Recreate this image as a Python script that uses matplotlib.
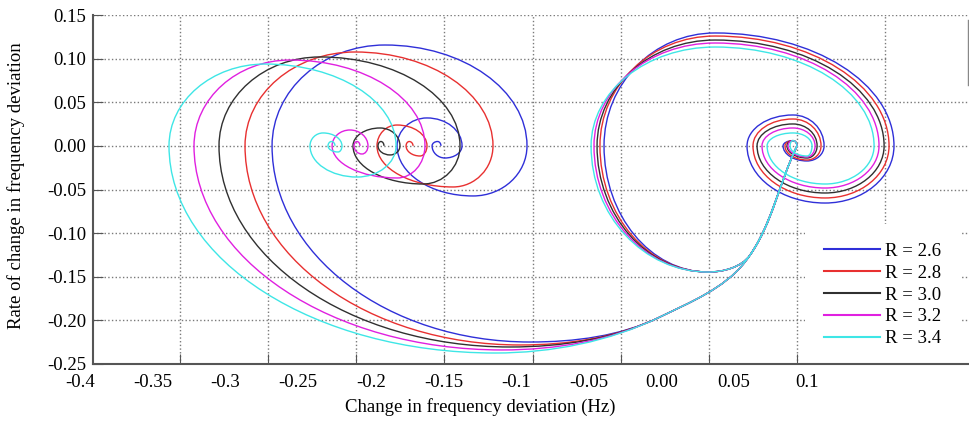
import matplotlib
matplotlib.use("Agg")
import matplotlib.pyplot as plt
import numpy as np
from matplotlib.path import Path
from matplotlib.patches import PathPatch, Rectangle
from matplotlib.lines import Line2D

plt.rcParams['font.family'] = ['Liberation Serif', 'DejaVu Serif']

## series
r_labels = ['R = 2.6', 'R = 2.8', 'R = 3.0', 'R = 3.2', 'R = 3.4']
colors = ['#2f2fd8', '#e83030', '#303030', '#e020e0', '#3ee6e6']

## curve nodes (extremes of each half turn), travel is clockwise
## left trajectory: starts at the right equilibrium, swings out left, spirals in
left_dirs = [244, 232, 206, 180, 90, 0, 270, 180, 90, 0, 270, 180, 90, 0, 270]
left_start = [(0.0933, 0.0), (0.0575, -0.1331), (-0.0010, -0.1961)]
left_26 = [(-0.0904, -0.2248), (-0.2679, 0.0), (-0.1902, 0.1156), (-0.0925, 0.0),
           (-0.1296, -0.0574), (-0.1819, 0.0), (-0.1613, 0.0320), (-0.1372, 0.0),
           (-0.1489, -0.0139), (-0.1578, 0.0), (-0.1540, 0.005), (-0.1517, 0.0)]
left_28 = [(-0.0973, -0.2282), (-0.2865, 0.0), (-0.2108, 0.1076), (-0.1159, 0.0),
           (-0.1434, -0.0471), (-0.1957, 0.0), (-0.1819, 0.0239), (-0.1613, 0.0),
           (-0.1661, -0.0116), (-0.1757, 0.0), (-0.1735, 0.005), (-0.1709, 0.0)]
left_30 = [(-0.1042, -0.2305), (-0.3044, 0.0), (-0.2349, 0.1019), (-0.1386, 0.0),
           (-0.1640, -0.0437), (-0.2122, 0.0), (-0.1936, 0.0205), (-0.1799, 0.0),
           (-0.1867, -0.0104), (-0.1950, 0.0), (-0.1930, 0.005), (-0.1909, 0.0)]
left_32 = [(-0.1097, -0.2339), (-0.3216, 0.0), (-0.2555, 0.0984), (-0.1627, 0.0),
           (-0.1819, -0.0368), (-0.2266, 0.0), (-0.2143, 0.0182), (-0.2019, 0.0),
           (-0.2060, -0.0093), (-0.2115, 0.0), (-0.2095, 0.005), (-0.2074, 0.0)]
left_34 = [(-0.1145, -0.2374), (-0.3388, 0.0), (-0.2727, 0.0938), (-0.1826, 0.0),
           (-0.2094, -0.0357), (-0.2418, 0.0), (-0.2328, 0.0148), (-0.2198, 0.0),
           (-0.2225, -0.0070), (-0.2294, 0.0), (-0.2270, 0.005), (-0.2246, 0.0)]

## right trajectory: small dip, then a wide loop spiralling into the right equilibrium
right_dirs = [244, 235, 180, 90, 0, 270, 180, 90, 0, 270, 180, 90, 0, 270]
right_start = [(0.0933, 0.0), (0.0610, -0.1251), (0.0321, -0.1446)]
right_26 = [(-0.0395, 0.0), (0.0369, 0.1294), (0.1600, 0.0), (0.1126, -0.0655), (0.0589, 0.0),
            (0.0905, 0.0354), (0.1119, 0.0), (0.1002, -0.0173), (0.0837, 0.0), (0.0905, 0.006), (0.0933, 0.0)]
right_28 = [(-0.0423, 0.0), (0.0369, 0.1259), (0.1566, 0.0), (0.1126, -0.0597), (0.0630, 0.0),
            (0.0905, 0.0308), (0.1098, 0.0), (0.1002, -0.0162), (0.0850, 0.0), (0.0905, 0.006), (0.0933, 0.0)]
right_30 = [(-0.0443, 0.0), (0.0369, 0.1213), (0.1532, 0.0), (0.1126, -0.0540), (0.0658, 0.0),
            (0.0905, 0.0251), (0.1071, 0.0), (0.1002, -0.0139), (0.0864, 0.0), (0.0905, 0.006), (0.0933, 0.0)]
right_32 = [(-0.0464, 0.0), (0.0369, 0.1179), (0.1497, 0.0), (0.1126, -0.0483), (0.0692, 0.0),
            (0.0905, 0.0205), (0.1057, 0.0), (0.1002, -0.0127), (0.0871, 0.0), (0.0905, 0.006), (0.0933, 0.0)]
right_34 = [(-0.0484, 0.0), (0.0369, 0.1133), (0.1463, 0.0), (0.1126, -0.0437), (0.0727, 0.0),
            (0.0905, 0.0148), (0.1036, 0.0), (0.1002, -0.0116), (0.0885, 0.0), (0.0905, 0.006), (0.0933, 0.0)]

left_paths = [left_26, left_28, left_30, left_32, left_34]
right_paths = [right_26, right_28, right_30, right_32, right_34]

x_labels = ['-0.4', '-0.35', '-0.3', '-0.25', '-0.2', '-0.15', '-0.1', '-0.05', '0.00', '0.05', '0.1']
x_label_vals = [-0.4, -0.35, -0.3, -0.25, -0.2, -0.15, -0.1, -0.05, 0.0, 0.05, 0.1]
y_ticks = [-0.25, -0.2, -0.15, -0.1, -0.05, 0.0, 0.05, 0.1, 0.15]


def smooth_path(ax, nodes, dirs):
    # cubic bezier through the nodes, leaving each node along its travel direction
    P = ax.transData.transform(np.array(nodes))
    a = np.radians(dirs)
    T = np.column_stack([np.cos(a), np.sin(a)])
    verts = [P[0]]
    codes = [Path.MOVETO]
    for i in range(len(P) - 1):
        p0, p1, t0, t1 = P[i], P[i + 1], T[i], T[i + 1]
        chord = p1 - p0
        if abs(t0[0] * t1[1] - t0[1] * t1[0]) > 0.9:
            h0 = 0.5523 * abs(chord @ t0)
            h1 = 0.5523 * abs(chord @ t1)
        else:
            h0 = h1 = np.hypot(*chord) / 3
        verts += [p0 + h0 * t0, p1 - h1 * t1, p1]
        codes += [Path.CURVE4] * 3
    verts = ax.transData.inverted().transform(np.array(verts))
    return Path(verts, codes)


fig = plt.figure(figsize=(9.7, 4.25), dpi=100)
ax = fig.add_axes([93 / 970, 61 / 425, 877 / 970, 349 / 425])
ax.set_xlim(-0.3911, 0.2123)
ax.set_ylim(-0.25, 0.15)

# grid / ticks (the tick marks do not sit under the tick labels in the original)
ax.set_xticks(np.linspace(-0.3312, 0.1538, 9))
ax.set_xticklabels([])
ax.set_yticks(y_ticks)
ax.set_yticklabels(['%.2f' % v for v in y_ticks], fontsize=13.5)
ax.tick_params(axis='both', direction='in', length=7, color='#555555', pad=5)
ax.grid(True, ls=':', color='#7a7a7a', lw=1.0)
for s in ['top', 'right']:
    ax.spines[s].set_visible(False)
for s in ['left', 'bottom']:
    ax.spines[s].set_color('#555555')
    ax.spines[s].set_linewidth(1.5)

for v, lab in zip(x_label_vals, x_labels):
    ax.text(v, -0.03, lab, transform=ax.get_xaxis_transform(), ha='center', va='top',
            fontsize=13.5, clip_on=False)

for lp, rp, c in zip(left_paths, right_paths, colors):
    ax.add_patch(PathPatch(smooth_path(ax, left_start + lp, left_dirs), fill=False,
                           edgecolor=c, lw=1.0, zorder=2))
    ax.add_patch(PathPatch(smooth_path(ax, right_start + rp, right_dirs), fill=False,
                           edgecolor=c, lw=1.0, zorder=2))

# blank patch in the upper right corner of the original
ax.add_patch(Rectangle((0.905, 0.79), 0.095, 0.196, transform=ax.transAxes,
                       facecolor='white', edgecolor='none', zorder=1.8))
ax.axvline(0.2110, ymin=0.80, ymax=0.985, color='#888888', lw=1.0)

ax.set_xlabel('Change in frequency deviation (Hz)', fontsize=13.5)
ax.xaxis.set_label_coords(0.441, -0.097)
ax.set_ylabel('Rate of change in frequency deviation', fontsize=13.5)
ax.yaxis.set_label_coords(-0.0775, 0.51)

handles = [Line2D([], [], color=c, lw=1.5) for c in colors]
leg = ax.legend(handles, r_labels, loc='upper left', bbox_to_anchor=(0.812, 0.401),
                frameon=True, facecolor='white', edgecolor='none', framealpha=1, fancybox=False,
                borderpad=1.0, labelspacing=0.25, handlelength=3.0, handletextpad=0.25,
                borderaxespad=0, fontsize=13.5)
leg.set_zorder(2.2)  # keep the bottom tick marks visible over the legend box

plt.savefig('out.png', dpi=100)
plt.close()
